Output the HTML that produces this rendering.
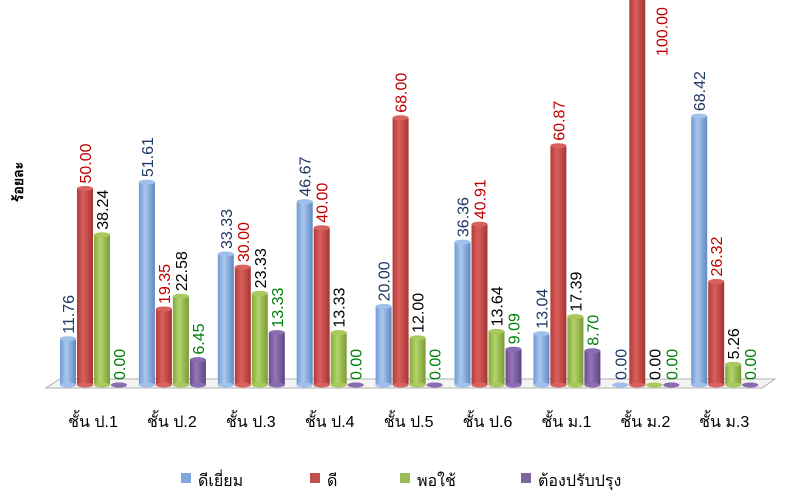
<!DOCTYPE html>
<html><head><meta charset="utf-8"><style>
html,body{margin:0;padding:0;background:#fff;}
svg{display:block;font-family:"Liberation Sans","DejaVu Sans",sans-serif;}
</style></head><body>
<svg id="chart" width="800" height="500" viewBox="0 0 800 500" xmlns="http://www.w3.org/2000/svg">
<defs>
<linearGradient id="g0" x1="0" x2="1"><stop offset="0" stop-color="#6f9bd6"/><stop offset="0.4" stop-color="#a9c8ee"/><stop offset="1" stop-color="#5f88c4"/></linearGradient>
<linearGradient id="g1" x1="0" x2="1"><stop offset="0" stop-color="#b23b38"/><stop offset="0.4" stop-color="#d9605c"/><stop offset="1" stop-color="#a63431"/></linearGradient>
<linearGradient id="g2" x1="0" x2="1"><stop offset="0" stop-color="#86a83d"/><stop offset="0.4" stop-color="#b4d46c"/><stop offset="1" stop-color="#7a9b35"/></linearGradient>
<linearGradient id="g3" x1="0" x2="1"><stop offset="0" stop-color="#6a4c8f"/><stop offset="0.4" stop-color="#9477ba"/><stop offset="1" stop-color="#5e4382"/></linearGradient>
</defs>
<polygon points="60,379 775,379 762,388 46,388" fill="#f4f4f4" stroke="#b0b0b0" stroke-width="1"/>
<text transform="translate(23,182) rotate(-90)" text-anchor="middle" font-size="14" font-weight="bold" fill="#000">ร้อยละ</text>
<g id="bars"></g>
<g id="legend"></g>
</svg>
<script>
const categories=["ชั้น ป.1","ชั้น ป.2","ชั้น ป.3","ชั้น ป.4","ชั้น ป.5","ชั้น ป.6","ชั้น ม.1","ชั้น ม.2","ชั้น ม.3"];
const seriesNames=["ดีเยี่ยม","ดี","พอใช้","ต้องปรับปรุง"];
const excellent=[11.76,51.61,33.33,46.67,20.00,36.36,13.04,0.00,68.42];
const good=[50.00,19.35,30.00,40.00,68.00,40.91,60.87,100.00,26.32];
const fair=[38.24,22.58,23.33,13.33,12.00,13.64,17.39,0.00,5.26];
const improve=[0.00,6.45,13.33,0.00,0.00,9.09,8.70,0.00,0.00];
const series=[excellent,good,fair,improve];
const fills=["url(#g0)","url(#g1)","url(#g2)","url(#g3)"];
const caps=["#9fc0ea","#d7625e","#a9c95f","#8a6cb0"];
const legendColors=["#7fa9dd","#c0504d","#9bbb59","#8064a2"];
const labelColors=["#1f3864","#c00000","#000000","#00800a"];
const NS="http://www.w3.org/2000/svg";
const base=385, scale=3.93;
const yPos=v=>base-v*scale;
const groupX=i=>60+i*78.9;
const barW=16, barStep=17;
const g=document.getElementById('bars');
function mk(t,a){const e=document.createElementNS(NS,t);for(const k in a)e.setAttribute(k,a[k]);return e;}
categories.forEach((c,i)=>{
  series.forEach((s,j)=>{
    const v=s[i];const x=groupX(i)+j*barStep;const top=yPos(v);
    const r=mk('rect',{x:x,y:top,width:barW,height:Math.max(base-top,0),fill:fills[j]});
    
    
    g.appendChild(r);
    const be=mk('ellipse',{cx:x+barW/2,cy:base,rx:barW/2,ry:2.5,fill:caps[j]});
    
    
    g.appendChild(be);
    const ce=mk('ellipse',{cx:x+barW/2,cy:top,rx:barW/2,ry:2.5,fill:caps[j]});
    
    
    g.appendChild(ce);
    const txt=v.toFixed(2);
    let lx=x+barW/2+6, ly=top-5;
    const estLen=txt.length*9;
    if(ly-estLen<0){lx=x+barW+22;ly=estLen+2;}
    const t=mk('text',{transform:'translate('+lx+','+ly+') rotate(-90)','font-size':'16',fill:labelColors[j]});
    
    
    t.textContent=txt;g.appendChild(t);
  });
  const cl=mk('text',{x:groupX(i)+33,y:427,'text-anchor':'middle','font-size':'16',fill:'#000'});
  
  
  cl.textContent=c;g.appendChild(cl);
});
const lg=document.getElementById('legend');
const lx=[181,310,400,521];
seriesNames.forEach((n,j)=>{
  const r=mk('rect',{x:lx[j],y:473,width:10,height:10,fill:legendColors[j]});
  
  
  lg.appendChild(r);
  const t=mk('text',{x:lx[j]+17,y:486,'font-size':'16',fill:'#000'});
  
  
  t.textContent=n;lg.appendChild(t);
});
</script>
</body></html>
